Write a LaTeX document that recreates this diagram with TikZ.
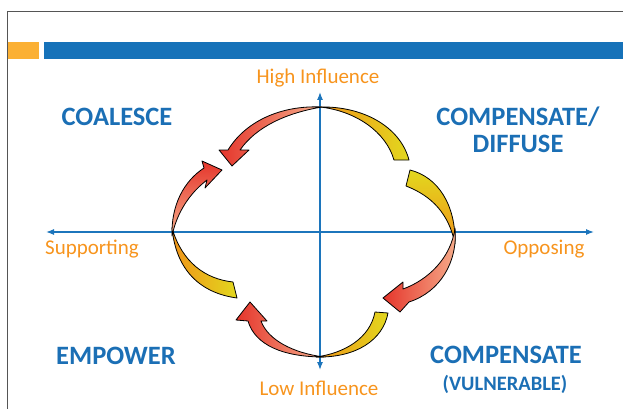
\documentclass[tikz,border=0pt]{standalone}
\usepackage{fontspec}
\setmainfont{Carlito}
\usetikzlibrary{arrows.meta}
\definecolor{barblue}{HTML}{1672B9}
\definecolor{barorange}{HTML}{FBB034}
\definecolor{axisblue}{HTML}{1C75BC}
\definecolor{labelblue}{HTML}{1B6FB5}
\definecolor{poleorange}{HTML}{F7941D}
\definecolor{bandorange}{HTML}{F09419}
\definecolor{bandyellow}{HTML}{E2D81E}
\definecolor{arrowred}{HTML}{E5352B}
\definecolor{arrowpink}{HTML}{F6AE8C}
\definecolor{framegray}{HTML}{555555}
\tikzset{
  % akser
  axis/.style={{Latex[length=8pt,width=6pt]}-{Latex[length=8pt,width=6pt]},draw=axisblue,line width=1.2pt},
  % tekst
  quad/.style={text=labelblue,font=\fontsize{26.5}{27}\selectfont\bfseries,align=center,inner sep=0pt},
  quadsmall/.style={quad,font=\fontsize{20.5}{22}\selectfont\bfseries},
  pole/.style={text=poleorange,font=\fontsize{21}{22}\selectfont,inner sep=0pt},
  % piler og band
  piece/.style={draw=black,line width=0.8pt,line join=round},
}
\begin{document}
\begin{tikzpicture}[x=1pt,y=-1pt]
  \useasboundingbox (0,0) rectangle (623,409);
  % ramme og topplinje
  \draw[framegray,line width=1.6pt] (7.5,409) |- (623,11.5);
  \fill[barorange] (7.5,42) rectangle (39,59);
  \fill[barblue] (44,42) rectangle (623,59);
  % akser
  \coordinate (west) at (46,232);
  \coordinate (east) at (594,232);
  \coordinate (north) at (320,92);
  \coordinate (south) at (320,370);
  \draw[axis] (west) -- (east);
  \draw[axis] (south) -- (north);
  % oppe
  \path[piece,left color=arrowred,right color=arrowpink]
    (322,107) .. controls (280,105) and (245,122) .. (228,150) -- (219,150) -- (232,166) -- (249,150) -- (240,150)
    .. controls (256,127) and (286,113) .. cycle;
  \path[piece,left color=bandorange,middle color=bandorange!75!bandyellow,right color=bandyellow]
    (320,107) .. controls (362,106) and (400,126) .. (409,160) -- (394,160) .. controls (386,132) and (356,111) .. cycle;
  % hoegre
  \path[piece,top color=bandyellow,middle color=bandorange!75!bandyellow,bottom color=bandorange]
    (410,170) .. controls (438,177) and (456,205) .. (455,244) .. controls (449,214) and (432,196) .. (406,186) -- cycle;
  \path[piece,left color=arrowred,right color=arrowpink]
    (455,228) .. controls (458,262) and (440,292) .. (409,302) -- (400,312) -- (383,298) -- (403,282) -- (403,289)
    .. controls (428,280) and (451,258) .. cycle;
  % nede
  \path[piece,left color=bandorange,middle color=bandorange!75!bandyellow,right color=bandyellow]
    (388,313) .. controls (383,340) and (356,358) .. (316,357) .. controls (345,353) and (370,338) .. (375,312) -- cycle;
  \path[piece,left color=arrowred,right color=arrowpink]
    (324,357) .. controls (293,353) and (268,340) .. (261,321) -- (267,321) -- (250,302) -- (236,320) -- (248,321)
    .. controls (255,345) and (283,357) .. cycle;
  % venstre
  \path[piece,left color=bandorange,middle color=bandorange!75!bandyellow,right color=bandyellow]
    (172,228) .. controls (176,270) and (200,293) .. (237,298) -- (233,282) .. controls (205,279) and (182,262) .. cycle;
  \path[piece,top color=arrowred,bottom color=arrowpink]
    (172,236) .. controls (171,205) and (184,181) .. (204,168) -- (202,161) -- (222,170) -- (205,188) -- (207,180)
    .. controls (190,193) and (177,212) .. cycle;
  % tekst
  \node[pole] (high) at (318,78.5) {High Influence};
  \node[pole] (low) at (319,388) {Low Influence};
  \node[pole] (supp) at (92,249.5) {Supporting};
  \node[pole] (opp) at (544,249.5) {Opposing};
  \node[quad] (coalesce) at (117,117) {COALESCE};
  \node[quad] (diffuse) at (518,130) {COMPENSATE/\\DIFFUSE};
  \node[quad] (empower) at (116,356) {EMPOWER};
  \node[quad] (vuln) at (506,355) {COMPENSATE};
  \node[quadsmall] (vulnsub) at (505,384) {(VULNERABLE)};
\end{tikzpicture}
\end{document}
